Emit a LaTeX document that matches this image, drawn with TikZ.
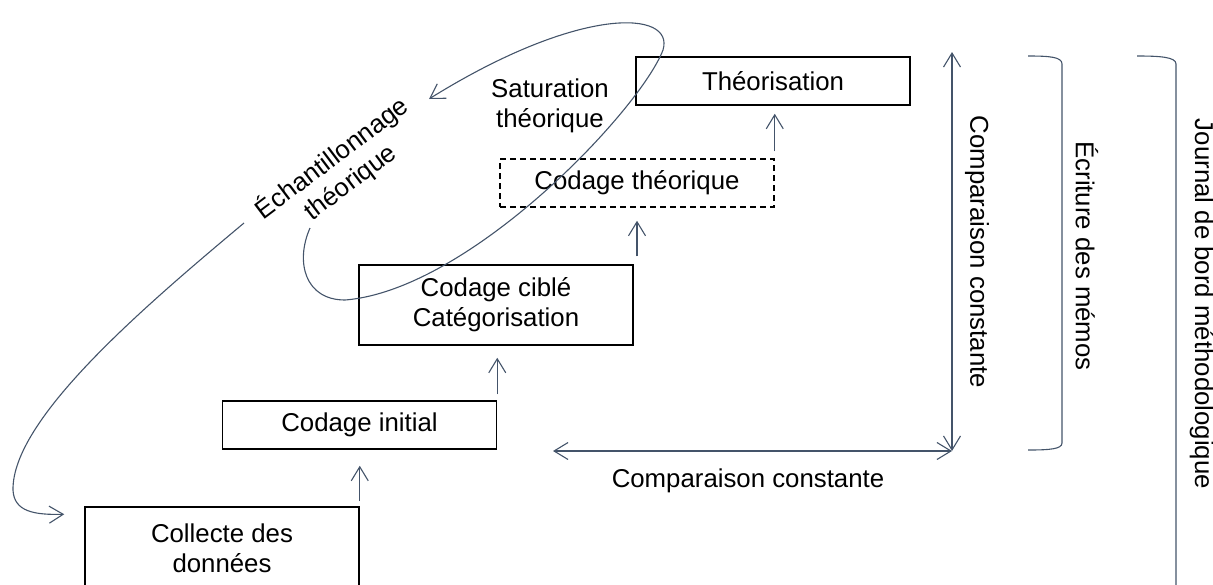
\documentclass[tikz,border=0pt]{standalone}
\usepackage{fontspec}
\setmainfont{Liberation Sans}
\usetikzlibrary{arrows.meta}
\definecolor{slate}{HTML}{44546A}
\begin{document}
\begin{tikzpicture}[x=0.5pt,y=-0.5pt,
  font=\fontsize{12.9pt}{15pt}\selectfont,
  stage/.style={draw=black, line width=0.75pt, minimum width=137pt, inner sep=0pt, align=center},
  barb/.tip={Straight Barb[length=7pt,width=8.5pt]},
  conn/.style={draw=slate, line width=0.55pt, -barb},
  twoway/.style={draw=slate, line width=0.55pt, barb-barb},
  brace/.style={draw=slate, line width=0.55pt},
  caption/.style={align=center, inner sep=0pt},
]
\useasboundingbox (0,0) rectangle (1213,584);
\clip (0,0) rectangle (1213,584);

% the staircase of coding stages
\node[stage, minimum height=41pt] (collect) at (222,548) {Collecte des\\données};
\node[stage, minimum height=24pt] (initial) at (359.5,425) {Codage initial};
\node[stage, minimum height=40pt] (target) at (496,305) {Codage ciblé\\Catégorisation};
\node[stage, dash pattern=on 3pt off 2pt, minimum height=24pt] (theocode) at (637,183) {Codage théorique};
\node[stage, minimum height=24pt] (theory) at (773,81) {Théorisation};

% upward steps
\draw[conn, shorten <=2.5pt, shorten >=8pt] (collect.north east) -- (collect.north east |- initial.south);
\draw[conn, shorten <=3pt, shorten >=6pt] (initial.north east) -- (initial.north east |- target.south);
\draw[conn, shorten <=4pt, shorten >=6.5pt] (theocode.south |- target.north) -- (theocode.south);
\draw[conn, shorten <=3.5pt, shorten >=4pt] (theocode.north east) -- (theocode.north east |- theory.south);

% constant comparison, horizontal and vertical
\coordinate (meet) at (952,451);
\coordinate (cmpL) at (553,451);
\coordinate (cmpT) at (952,52);
\draw[twoway] (cmpL) -- (meet);
\draw[twoway] (meet) -- (cmpT);
\node[caption] (cmpH) at (748,481) {Comparaison constante};
\node[caption, rotate=-90] (cmpV) at (977,252) {Comparaison constante};

% memo brackets
\draw[brace] (1028,56) .. controls (1050,56) and (1062,57) .. (1062,64) -- (1062,443) .. controls (1062,449) and (1050,450) .. (1028,450);
\node[caption, rotate=-90] (memo) at (1087,256) {Écriture des mémos};
\draw[brace] (1137,56) .. controls (1160,56) and (1176,57) .. (1176,64) -- (1176,600);
\node[caption, rotate=-90] (journal) at (1202,304) {Journal de bord méthodologique};

% theoretical sampling loop
\node[caption, rotate=37] (sampling) at (341,170) {Échantillonnage\\théorique};
\node[caption] (saturation) at (550,106) {Saturation\\théorique};
\coordinate (loopS) at (310,228);
\coordinate (loopE) at (429,99);
\draw[conn] (loopS) .. controls (295,262) and (305,300) .. (345,300)
  .. controls (470,290) and (640,110) .. (663,50)
  .. controls (675,10) and (580,5) .. (loopE);
\coordinate (sampS) at (244,223);
\draw[conn] (sampS) .. controls (140,310) and (12,420) .. (13,490)
  .. controls (14,512) and (35,515) .. ([xshift=-10pt,yshift=-4pt]collect.north west);
\end{tikzpicture}
\end{document}
